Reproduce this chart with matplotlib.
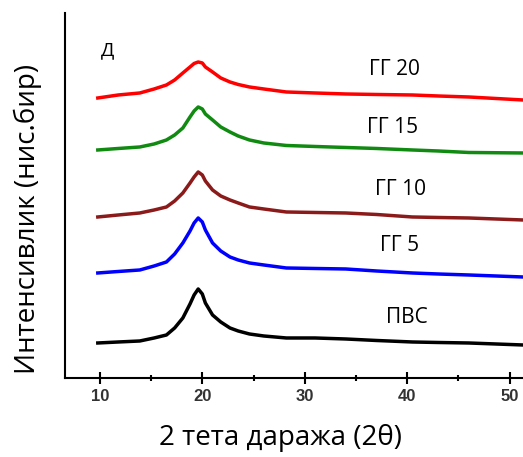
import matplotlib.pyplot as plt
from matplotlib.ticker import MultipleLocator

# 2theta sample positions and curve intensities (arbitrary units, offset stacked)
two_theta = [9.8, 11.8, 13.9, 15.3, 16.5, 17.3, 18.1, 18.8, 19.2, 19.6, 20.0, 20.3, 21.0, 21.8,
             22.7, 23.5, 24.6, 26.0, 28.2, 31.0, 34.0, 37.0, 40.5, 43.0, 46.0, 51.3]

pvs  = [35, 36, 37, 40, 43, 50, 60, 74, 83, 89, 84, 75, 63, 56,
        50, 47, 44, 42, 40, 40, 39, 37.5, 36, 35.5, 35, 33]
gg5  = [105, 106.5, 108, 112, 116, 124, 135, 147, 155, 160, 156, 148, 135, 127,
        121, 118, 115, 113, 110, 109.5, 109, 107, 105, 104, 103, 101]
gg10 = [161, 163, 165, 168, 171, 177, 185, 195, 201, 206, 203, 197, 188, 182,
        178, 175, 171, 169, 166, 165.5, 165, 163.5, 161, 160.5, 160, 158]
gg15 = [228, 229.5, 231, 234, 238, 243, 250, 261, 267, 271, 269, 264, 258, 251,
        246, 242, 238, 235, 232.5, 231.5, 230.5, 229.5, 228, 227, 225.5, 225]
gg20 = [280, 283, 285, 289, 293, 298, 305, 311, 314.5, 316, 315, 311, 306, 300,
        296, 293.5, 291, 289, 286, 285, 284, 283.5, 283, 282, 281, 278]

series = [pvs, gg5, gg10, gg15, gg20]
labels = ["ПВС", "ГГ 5", "ГГ 10", "ГГ 15", "ГГ 20"]
colors = ["black", "#0000ff", "#8b1a1a", "#108a10", "#ff0000"]

# label positions (2theta, intensity)
label_x = [40.0, 39.3, 39.3, 38.6, 38.8]
label_y = [60, 132, 188, 250, 308]

fig = plt.figure(figsize=(5.23, 4.57), dpi=100)
ax = fig.add_axes([0.1243, 0.1729, 0.8757, 0.7987])

for ys, c in zip(series, colors):
    ax.plot(two_theta, ys, color=c, linewidth=2.5, solid_joinstyle='round')

for lab, lx, ly in zip(labels, label_x, label_y):
    ax.text(lx, ly, lab, ha='center', va='center', fontsize=15, family='Open Sans')

ax.text(10.1, 328, "Д", ha='left', va='center', fontsize=14, family='Open Sans')

ax.set_xlim(6.6, 51.3)
ax.set_ylim(0, 365)

ax.spines['top'].set_visible(False)
ax.spines['right'].set_visible(False)
ax.spines['left'].set_linewidth(1.5)
ax.spines['bottom'].set_linewidth(1.5)

ax.set_yticks([])
ax.xaxis.set_major_locator(MultipleLocator(10))
ax.xaxis.set_minor_locator(MultipleLocator(5))
ax.set_xticks([10, 20, 30, 40, 50])
ax.tick_params(axis='x', which='major', direction='inout', length=8, width=1.5, pad=4)
ax.tick_params(axis='x', which='minor', direction='inout', length=4, width=1.5)
for t in ax.get_xticklabels():
    t.set_fontfamily('Liberation Sans')
    t.set_fontweight('bold')
    t.set_fontsize(12)
    t.set_color('#333333')

ax.set_xlabel("2 тета даража (2θ)", fontsize=20, family='Open Sans')
ax.set_ylabel("Интенсивлик (нис.бир)", fontsize=20, family='Open Sans')
ax.xaxis.set_label_coords(0.470, -0.125)
ax.yaxis.set_label_coords(-0.05, 0.436)

fig.savefig("out.png", dpi=100)
